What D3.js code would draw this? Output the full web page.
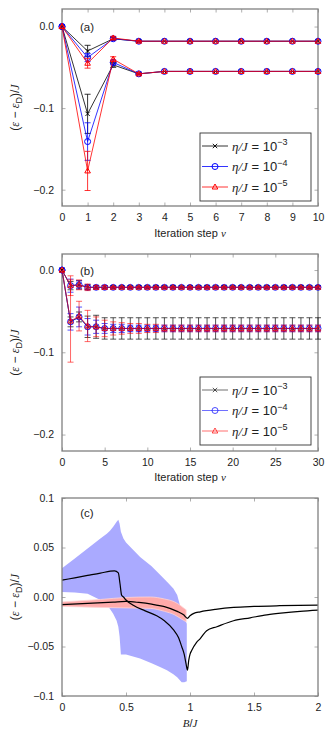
<!DOCTYPE html>
<meta charset="utf-8">
<script src="https://d3js.org/d3.v7.min.js"></script>
<style>
  body { margin: 0; background: #fff; }
  text { font-family: "Liberation Sans", Arial, sans-serif; fill: #222; }
  .math { font-family: "Liberation Serif", "DejaVu Serif", serif; font-style: italic; }
</style>
<div id="chart"></div>
<script>

// ---------- data: panel (a) ----------
var stepsA = [0, 1, 2, 3, 4, 5, 6, 7, 8, 9, 10];
var upperA = {
  k3: [0, -0.030, -0.015, -0.018, -0.018, -0.018, -0.018, -0.018, -0.018, -0.018, -0.018],
  k4: [0, -0.038, -0.015, -0.018, -0.018, -0.018, -0.018, -0.018, -0.018, -0.018, -0.018],
  k5: [0, -0.045, -0.014, -0.018, -0.018, -0.018, -0.018, -0.018, -0.018, -0.018, -0.018]
};
var upperErrA = {
  k3: [0, 0.007, 0.002, 0.001, 0, 0, 0, 0, 0, 0, 0],
  k4: [0, 0.005, 0.002, 0.001, 0, 0, 0, 0, 0, 0, 0],
  k5: [0, 0.006, 0.002, 0.001, 0, 0, 0, 0, 0, 0, 0]
};
var lowerA = {
  k3: [0, -0.107, -0.047, -0.058, -0.055, -0.055, -0.055, -0.055, -0.055, -0.055, -0.055],
  k4: [0, -0.141, -0.044, -0.058, -0.055, -0.055, -0.055, -0.055, -0.055, -0.055, -0.055],
  k5: [0, -0.177, -0.040, -0.058, -0.055, -0.055, -0.055, -0.055, -0.055, -0.055, -0.055]
};
var lowerErrA = {
  k3: [0, 0.024, 0.003, 0.001, 0, 0, 0, 0, 0, 0, 0],
  k4: [0, 0.023, 0.003, 0.001, 0, 0, 0, 0, 0, 0, 0],
  k5: [0, 0.024, 0.003, 0.001, 0, 0, 0, 0, 0, 0, 0]
};

// ---------- data: panel (b) ----------
var stepsB = [0, 1, 2, 3, 4, 5, 6, 7, 8, 9, 10, 11, 12, 13, 14, 15, 16, 17, 18, 19, 20,
              21, 22, 23, 24, 25, 26, 27, 28, 29, 30];
var upperB = {
  k3: [0, -0.019, -0.018, -0.021, -0.021, -0.021, -0.021, -0.021, -0.021, -0.021, -0.021,
       -0.021, -0.021, -0.021, -0.021, -0.021, -0.021, -0.021, -0.021, -0.021, -0.021,
       -0.021, -0.021, -0.021, -0.021, -0.021, -0.021, -0.021, -0.021, -0.021, -0.021],
  k4: [0, -0.019, -0.018, -0.021, -0.021, -0.021, -0.021, -0.021, -0.021, -0.021, -0.021,
       -0.021, -0.021, -0.021, -0.021, -0.021, -0.021, -0.021, -0.021, -0.021, -0.021,
       -0.021, -0.021, -0.021, -0.021, -0.021, -0.021, -0.021, -0.021, -0.021, -0.021],
  k5: [0, -0.019, -0.018, -0.021, -0.021, -0.021, -0.021, -0.021, -0.021, -0.021, -0.021,
       -0.021, -0.021, -0.021, -0.021, -0.021, -0.021, -0.021, -0.021, -0.021, -0.021,
       -0.021, -0.021, -0.021, -0.021, -0.021, -0.021, -0.021, -0.021, -0.021, -0.021]
};
var upperErrB = {
  k3: [0, 0.005, 0.005, 0.003, 0.002, 0.002, 0.002, 0.002, 0.002, 0.002, 0.002,
       0.002, 0.002, 0.002, 0.002, 0.002, 0.002, 0.002, 0.002, 0.002, 0.002,
       0.002, 0.002, 0.002, 0.002, 0.002, 0.002, 0.002, 0.002, 0.002, 0.002],
  k4: [0, 0.008, 0.005, 0.003, 0.002, 0.002, 0.001, 0.001, 0.001, 0.001, 0.001,
       0.001, 0.001, 0.001, 0.001, 0.001, 0.001, 0.001, 0.001, 0.001, 0.001,
       0.001, 0.001, 0.001, 0.001, 0.001, 0.001, 0.001, 0.001, 0.001, 0.001],
  k5: [0, 0.012, 0.006, 0.004, 0.002, 0.002, 0.001, 0.001, 0.001, 0.001, 0.001,
       0.001, 0.001, 0.001, 0.001, 0.001, 0.001, 0.001, 0.001, 0.001, 0.001,
       0.001, 0.001, 0.001, 0.001, 0.001, 0.001, 0.001, 0.001, 0.001, 0.001]
};
var lowerB = {
  k3: [0, -0.063, -0.057, -0.069, -0.069, -0.071, -0.071, -0.071, -0.071, -0.071, -0.071,
       -0.071, -0.071, -0.071, -0.071, -0.071, -0.071, -0.071, -0.071, -0.071, -0.071,
       -0.071, -0.071, -0.071, -0.071, -0.071, -0.071, -0.071, -0.071, -0.071, -0.071],
  k4: [0, -0.063, -0.057, -0.069, -0.069, -0.071, -0.071, -0.071, -0.071, -0.071, -0.071,
       -0.071, -0.071, -0.071, -0.071, -0.071, -0.071, -0.071, -0.071, -0.071, -0.071,
       -0.071, -0.071, -0.071, -0.071, -0.071, -0.071, -0.071, -0.071, -0.071, -0.071],
  k5: [0, -0.062, -0.056, -0.068, -0.069, -0.071, -0.071, -0.071, -0.071, -0.071, -0.071,
       -0.071, -0.071, -0.071, -0.071, -0.071, -0.071, -0.071, -0.071, -0.071, -0.071,
       -0.071, -0.071, -0.071, -0.071, -0.071, -0.071, -0.071, -0.071, -0.071, -0.071]
};
var lowerErrB = {
  k3: [0, 0.006, 0.006, 0.013, 0.014, 0.013, 0.013, 0.013, 0.013, 0.013, 0.013,
       0.013, 0.013, 0.013, 0.013, 0.013, 0.013, 0.013, 0.013, 0.013, 0.013,
       0.013, 0.013, 0.013, 0.013, 0.013, 0.013, 0.013, 0.013, 0.013, 0.013],
  k4: [0, 0.010, 0.012, 0.010, 0.008, 0.006, 0.005, 0.005, 0.004, 0.004, 0.004,
       0.004, 0.004, 0.004, 0.004, 0.004, 0.004, 0.004, 0.004, 0.004, 0.004,
       0.004, 0.004, 0.004, 0.004, 0.004, 0.004, 0.004, 0.004, 0.004, 0.004],
  k5: [0, 0.050, 0.018, 0.019, 0.012, 0.010, 0.008, 0.007, 0.006, 0.006, 0.005,
       0.005, 0.004, 0.004, 0.004, 0.004, 0.004, 0.004, 0.004, 0.004, 0.004,
       0.004, 0.004, 0.004, 0.004, 0.004, 0.004, 0.004, 0.004, 0.004, 0.004]
};

// ---------- data: panel (c) ----------
var bDescend = [0, 0.1, 0.2, 0.3, 0.41, 0.44, 0.453, 0.466, 0.48, 0.5, 0.557, 0.65, 0.74, 0.8, 0.87,
                0.91, 0.935, 0.955, 0.97, 0.98, 0.99, 1.0, 1.013, 1.05, 1.08, 1.13, 1.21, 1.34,
                1.47, 1.6, 1.73, 1.86, 2.0];
var vDescend = [0.017, 0.0194, 0.0218, 0.0242, 0.0264, 0.0243, 0.0136, 0.0017, 0.0, -0.003, -0.0084,
                -0.014, -0.019, -0.024, -0.033, -0.041, -0.050, -0.058, -0.068, -0.074, -0.064,
                -0.058, -0.054, -0.046, -0.042, -0.034, -0.030, -0.024, -0.021, -0.018, -0.016,
                -0.0145, -0.0133];
var bFlat = [0, 0.2, 0.4, 0.5, 0.6, 0.7, 0.8, 0.9, 0.95, 0.98, 1.0, 1.03, 1.08, 1.2, 1.34, 1.5, 1.7, 2.0];
var vFlat = [-0.0077, -0.0065, -0.0052, -0.0045, -0.0055, -0.0072, -0.0098, -0.0145, -0.018, -0.0215,
             -0.019, -0.0165, -0.015, -0.0125, -0.0105, -0.0095, -0.0088, -0.0082];
var bBlue = [0, 0.1, 0.2, 0.3, 0.35, 0.375, 0.4, 0.427, 0.44, 0.45, 0.46, 0.48, 0.5, 0.61, 0.7, 0.77,
             0.82, 0.87, 0.9, 0.935, 0.955, 0.975];
var blueLo = [0.005, 0.0045, 0.0034, -0.003, -0.007, -0.012, -0.017, -0.024, -0.030, -0.040, -0.058,
              -0.058, -0.058, -0.062, -0.067, -0.071, -0.074, -0.078, -0.081, -0.086, -0.086, -0.085];
var blueHi = [0.029, 0.039, 0.049, 0.059, 0.064, 0.067, 0.071, 0.076, 0.078, 0.074, 0.066, 0.059,
              0.055, 0.0405, 0.031, 0.022, 0.0155, 0.0085, 0.002, -0.015, -0.021, -0.027];
var bPink = [0, 0.3, 0.5, 0.69, 0.8, 0.88, 0.93, 0.97];
var pinkLo = [-0.0095, -0.0105, -0.011, -0.0115, -0.0145, -0.018, -0.022, -0.025];
var pinkHi = [-0.005, -0.0025, -0.0005, 0.0, -0.002, -0.005, -0.009, -0.013];

var legendLabels = ["\u22123", "\u22124", "\u22125"];
var seriesKeys = ["k3", "k4", "k5"];
var seriesColors = {k3: "#000000", k4: "#0000ff", k5: "#ff0000"};

// ---------- layout ----------
var W = 330, H = 735;
var left = 62, right = 318;
var svg = d3.select("#chart").append("svg").attr("width", W).attr("height", H);

function drawFrame(top, bottom, x, y, xTicks, yTicks, xFmt, yFmt) {
  var g = svg.append("g");
  var tick = 3.5;
  g.append("g").attr("transform", "translate(0," + bottom + ")")
    .call(d3.axisBottom(x).tickValues(xTicks).tickSize(-tick).tickPadding(8).tickFormat(xFmt));
  g.append("g").attr("transform", "translate(0," + top + ")")
    .call(d3.axisTop(x).tickValues(xTicks).tickSize(-tick).tickFormat(""));
  g.append("g").attr("transform", "translate(" + left + ",0)")
    .call(d3.axisLeft(y).tickValues(yTicks).tickSize(-tick).tickPadding(8).tickFormat(yFmt));
  g.append("g").attr("transform", "translate(" + right + ",0)")
    .call(d3.axisRight(y).tickValues(yTicks).tickSize(-tick).tickFormat(""));
  g.selectAll(".domain").remove();
  g.selectAll(".tick line").attr("stroke", "#999").attr("stroke-width", 0.8);
  g.selectAll(".tick text").attr("font-size", 10.5).attr("fill", "#222")
    .style("font-family", "'Liberation Sans', Arial, sans-serif");
  svg.append("rect").attr("x", left).attr("y", top)
    .attr("width", right - left).attr("height", bottom - top)
    .attr("fill", "none").attr("stroke", "#808080").attr("stroke-width", 1.3);
}

function yTitle(cy) {
  var t = svg.append("text").attr("transform", "translate(19," + cy + ") rotate(-90)")
    .attr("text-anchor", "middle").attr("font-size", 12);
  t.append("tspan").text("(");
  t.append("tspan").attr("class", "math").text("\u03b5");
  t.append("tspan").text(" \u2212 ");
  t.append("tspan").attr("class", "math").text("\u03b5");
  t.append("tspan").attr("font-size", 9).attr("dy", 2.5).text("D");
  t.append("tspan").attr("dy", -2.5).text(")/");
  t.append("tspan").attr("class", "math").text("J");
}

function xTitleIter(yb) {
  var t = svg.append("text").attr("x", 190).attr("y", yb)
    .attr("text-anchor", "middle").attr("font-size", 11);
  t.append("tspan").text("Iteration step ");
  t.append("tspan").attr("class", "math").text("\u03bd");
}

function marker(g, key, cx, cy, color, op) {
  if (key === "k3") {
    g.append("path").attr("d", "M" + (cx - 2.2) + "," + (cy - 2.2) + "L" + (cx + 2.2) + "," + (cy + 2.2) +
      "M" + (cx - 2.2) + "," + (cy + 2.2) + "L" + (cx + 2.2) + "," + (cy - 2.2))
      .attr("stroke", color).attr("stroke-width", 0.9).attr("opacity", op);
  } else if (key === "k4") {
    g.append("circle").attr("cx", cx).attr("cy", cy).attr("r", 3)
      .attr("fill", "none").attr("stroke", color).attr("stroke-width", 1).attr("opacity", op);
  } else {
    g.append("path").attr("d", "M" + cx + "," + (cy - 3) + "L" + (cx + 2.8) + "," + (cy + 2) +
      "L" + (cx - 2.8) + "," + (cy + 2) + "Z")
      .attr("fill", "none").attr("stroke", color).attr("stroke-width", 1).attr("opacity", op);
  }
}

function drawSeries(x, y, steps, vals, errs, key, op) {
  var color = seriesColors[key];
  var g = svg.append("g");
  var pts = steps.map(function(s, i) { return {s: s, v: vals[i], e: errs[i]}; });
  g.append("path").datum(pts)
    .attr("d", d3.line().x(function(d) { return x(d.s); }).y(function(d) { return y(d.v); }))
    .attr("fill", "none").attr("stroke", color).attr("stroke-width", 0.8).attr("opacity", op);
  pts.forEach(function(d) {
    if (d.e > 0) {
      var px = x(d.s), y1 = y(d.v + d.e), y2 = y(d.v - d.e);
      g.append("path").attr("d", "M" + px + "," + y1 + "L" + px + "," + y2 +
        "M" + (px - 3) + "," + y1 + "L" + (px + 3) + "," + y1 +
        "M" + (px - 3) + "," + y2 + "L" + (px + 3) + "," + y2)
        .attr("stroke", color).attr("stroke-width", 0.8).attr("fill", "none").attr("opacity", op);
    }
  });
  pts.forEach(function(d) { marker(g, key, x(d.s), y(d.v), color, op); });
}

function drawLegend(x0, y0, op) {
  var g = svg.append("g");
  g.append("rect").attr("x", x0).attr("y", y0).attr("width", 111).attr("height", 68)
    .attr("fill", "#fff").attr("stroke", "#333").attr("stroke-width", 0.9);
  seriesKeys.forEach(function(k, i) {
    var cy = y0 + 13 + i * 20.5;
    g.append("line").attr("x1", x0 + 2).attr("x2", x0 + 28).attr("y1", cy).attr("y2", cy)
      .attr("stroke", seriesColors[k]).attr("stroke-width", 0.8).attr("opacity", op);
    marker(g, k, x0 + 15, cy, seriesColors[k], op);
    var t = g.append("text").attr("x", x0 + 32).attr("y", cy + 4.5).attr("font-size", 13);
    t.append("tspan").attr("class", "math").text("\u03b7/J");
    t.append("tspan").text(" = 10");
    t.append("tspan").attr("font-size", 9).attr("dy", -5.5).text(legendLabels[i]);
  });
}

// ---------- panel (a) ----------
var topA = 9, botA = 206;
var xA = d3.scaleLinear().domain([0, 10]).range([left, right]);
var yA = d3.scaleLinear().domain([-0.22, 0.0215]).range([botA, topA]);
drawFrame(topA, botA, xA, yA, stepsA, [-0.2, -0.1, 0], d3.format("d"), d3.format(".1f"));
seriesKeys.forEach(function(k) {
  drawSeries(xA, yA, stepsA, upperA[k], upperErrA[k], k, 1);
  drawSeries(xA, yA, stepsA, lowerA[k], lowerErrA[k], k, 1);
});
drawLegend(200, 133, 1);
svg.append("text").attr("x", 87).attr("y", 31).attr("text-anchor", "middle").attr("font-size", 11.5).text("(a)");
yTitle((topA + botA) / 2);
xTitleIter(237);

// ---------- panel (b) ----------
var topB = 254, botB = 451;
var xB = d3.scaleLinear().domain([0, 30]).range([left, right]);
var yB = d3.scaleLinear().domain([-0.22, 0.0195]).range([botB, topB]);
drawFrame(topB, botB, xB, yB, [0, 5, 10, 15, 20, 25, 30], [-0.2, -0.1, 0], d3.format("d"), d3.format(".1f"));
seriesKeys.forEach(function(k) {
  drawSeries(xB, yB, stepsB, upperB[k], upperErrB[k], k, k === "k5" ? 0.75 : 0.85);
  drawSeries(xB, yB, stepsB, lowerB[k], lowerErrB[k], k, k === "k5" ? 0.75 : 0.85);
});
drawLegend(200, 377, 0.7);
svg.append("text").attr("x", 87).attr("y", 275).attr("text-anchor", "middle").attr("font-size", 11.5).text("(b)");
yTitle((topB + botB) / 2);
xTitleIter(481);

// ---------- panel (c) ----------
var topC = 498, botC = 696;
var xC = d3.scaleLinear().domain([0, 2]).range([left, right]);
var yC = d3.scaleLinear().domain([-0.1, 0.1]).range([botC, topC]);
var xLabelsC = ["0", "0.5", "1", "1.5", "2"];
var yLabelsC = ["\u22120.1", "\u22120.05", "0.00", "0.05", "0.1"];
var xTicksC = [0, 0.5, 1, 1.5, 2];
var yTicksC = [-0.1, -0.05, 0, 0.05, 0.1];

var gC = svg.append("g");
gC.append("path").datum(bBlue.map(function(b, i) { return [b, blueLo[i], blueHi[i]]; }))
  .attr("d", d3.area().x(function(d) { return xC(d[0]); })
    .y0(function(d) { return yC(d[1]); }).y1(function(d) { return yC(d[2]); }))
  .attr("fill", "#aaaaff");
gC.append("path").datum(bPink.map(function(b, i) { return [b, pinkLo[i], pinkHi[i]]; }))
  .attr("d", d3.area().curve(d3.curveMonotoneX).x(function(d) { return xC(d[0]); })
    .y0(function(d) { return yC(d[1]); }).y1(function(d) { return yC(d[2]); }))
  .attr("fill", "#ffaaaa").attr("stroke", "#ffd4d4").attr("stroke-width", 0.8);
gC.append("path").datum(bFlat.map(function(b, i) { return [b, vFlat[i]]; }))
  .attr("d", d3.line().curve(d3.curveMonotoneX).x(function(d) { return xC(d[0]); }).y(function(d) { return yC(d[1]); }))
  .attr("fill", "none").attr("stroke", "#000").attr("stroke-width", 1.2);
gC.append("path").datum(bDescend.map(function(b, i) { return [b, vDescend[i]]; }))
  .attr("d", d3.line().curve(d3.curveMonotoneX).x(function(d) { return xC(d[0]); }).y(function(d) { return yC(d[1]); }))
  .attr("fill", "none").attr("stroke", "#000").attr("stroke-width", 1.2);

drawFrame(topC, botC, xC, yC, xTicksC, yTicksC,
  function(d, i) { return xLabelsC[i]; }, function(d, i) { return yLabelsC[i]; });
svg.append("text").attr("x", 87).attr("y", 517).attr("text-anchor", "middle").attr("font-size", 11.5).text("(c)");
yTitle((topC + botC) / 2);
var tB = svg.append("text").attr("x", 190).attr("y", 727).attr("text-anchor", "middle").attr("font-size", 11);
tB.append("tspan").attr("class", "math").text("B");
tB.append("tspan").text("/");
tB.append("tspan").attr("class", "math").text("J");

</script>
